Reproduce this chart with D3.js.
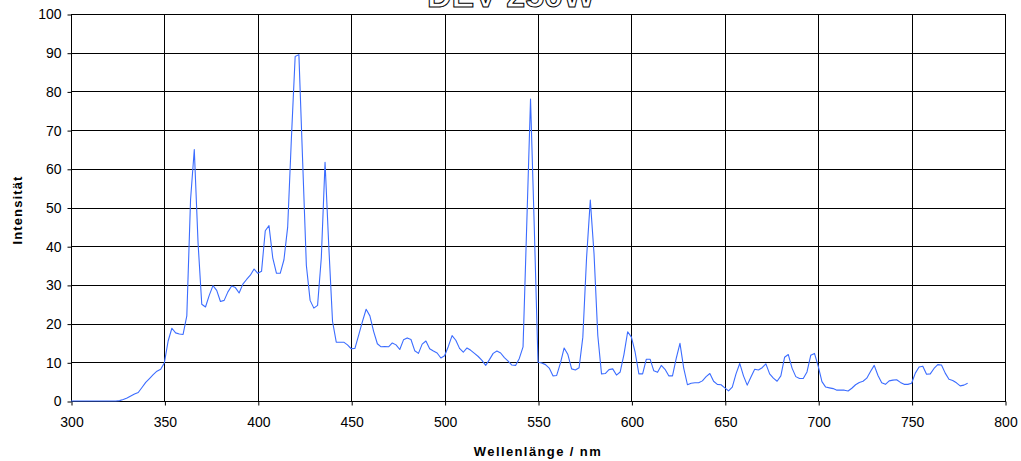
<!DOCTYPE html>
<html>
<head>
<meta charset="utf-8">
<script src="https://cdn.jsdelivr.net/npm/d3@7"></script>
<style>
  html, body { margin: 0; padding: 0; background: #fff; }
  svg { display: block; font-family: "Liberation Sans", Arial, sans-serif; }
</style>
</head>
<body>
<svg id="chart" width="1021" height="461"></svg>
<script>
const title = "DEV 250W";
const xLabel = "Wellenlänge / nm";
const yLabel = "Intensität";
const xTicks = [300, 350, 400, 450, 500, 550, 600, 650, 700, 750, 800];
const yTicks = [0, 10, 20, 30, 40, 50, 60, 70, 80, 90, 100];

const wavelengths = [
  300,302,304,306,308,310,312,314,316,318,320,322,324,326,328,330,332,334,336,338,340,342,344,346,348,
  350,352,354,356,358,360,362,364,366,368,370,372,374,376,378,380,382,384,386,388,390,392,394,396,398,
  400,402,404,406,408,410,412,414,416,418,420,422,424,426,428,430,432,434,436,438,440,442,444,446,448,
  450,452,454,456,458,460,462,464,466,468,470,472,474,476,478,480,482,484,486,488,490,492,494,496,498,
  500,502,504,506,508,510,512,514,516,518,520,522,524,526,528,530,532,534,536,538,540,542,544,546,548,
  550,552,554,556,558,560,562,564,566,568,570,572,574,576,578,580,582,584,586,588,590,592,594,596,598,
  600,602,604,606,608,610,612,614,616,618,620,622,624,626,628,630,632,634,636,638,640,642,644,646,648,
  650,652,654,656,658,660,662,664,666,668,670,672,674,676,678,680,682,684,686,688,690,692,694,696,698,
  700,702,704,706,708,710,712,714,716,718,720,722,724,726,728,730,732,734,736,738,740,742,744,746,748,
  750,752,754,756,758,760,762,764,766,768,770,772,774,776,778,780
];

const intensity = [
  0,0,0,0,0,0,0,0,0,0,0,0,0,0.1,0.4,0.8,1.3,1.8,2.2,3.5,4.8,5.8,6.8,7.7,8.2,
  9.9,15.5,18.8,17.6,17.3,17.2,22,52,65,41,25,24.3,27.3,29.8,28.6,25.7,26,28.2,29.7,29.3,27.9,30.2,31.4,32.5,34.1,
  33,33.5,44,45.3,37,33,33,36.5,45,68,89,89.5,62,35,26,24,24.7,37,61.7,40,20.6,15.2,15.2,15.2,14.5,
  13.5,13.6,17,20.5,23.7,22,18,14.8,14,14.1,14,15,14.5,13.3,15.8,16.3,15.9,13,12.3,14.7,15.5,13.5,12.9,12.4,11.1,
  11.7,14.1,16.9,15.7,13.6,12.6,13.7,13.1,12.3,11.5,10.5,9.2,10.7,12.3,12.9,12.4,11.2,10.3,9.3,9.2,11,14,46,78,45,
  10,9.8,9.4,8.5,6.5,6.6,9.8,13.7,12,8.3,8,8.6,16.5,37,51.9,38,17,7,7.1,8.1,8.3,6.7,7.5,12,17.9,
  16.5,12.6,7,7,10.8,10.8,7.8,7.4,9.2,8.2,6.5,6.5,11,14.9,8.5,4.2,4.6,4.7,4.7,5.2,6.3,7.1,5.1,4.3,4.2,
  3.4,2.6,3.6,7,9.7,6.5,4.1,6.2,8.2,8,8.6,9.6,7,5.9,5.1,6.5,11.3,12,8.5,6.3,5.8,5.8,7.5,11.8,12.3,
  9,5,3.6,3.4,3.2,2.8,2.8,2.8,2.6,3.3,4.2,4.8,5.1,5.9,7.6,9.2,6.6,4.7,4.3,5.2,5.4,5.5,4.8,4.3,4.3,
  4.6,7.2,8.8,9,6.9,7,8.4,9.4,9.3,7.2,5.6,5.3,4.7,3.9,4.1,4.6
];

const svg = d3.select("#chart");
const L = 71, R = 1005, T = 14, B = 401;
const x = d3.scaleLinear().domain([300, 800]).range([L, R]);
const y = d3.scaleLinear().domain([0, 100]).range([B, T]);

// grid
const g = svg.append("g");
g.selectAll("line.vg").data(xTicks).join("line")
  .attr("x1", d => Math.round(x(d)) + 0.5).attr("x2", d => Math.round(x(d)) + 0.5)
  .attr("y1", T).attr("y2", B)
  .attr("stroke", "#000").attr("stroke-width", 1);
g.selectAll("line.hg").data(yTicks).join("line")
  .attr("y1", d => Math.round(y(d)) + 0.5).attr("y2", d => Math.round(y(d)) + 0.5)
  .attr("x1", L).attr("x2", R + 1)
  .attr("stroke", "#000").attr("stroke-width", 1);

// axes
const xAxis = d3.axisBottom(x).tickValues(xTicks).tickSize(4).tickPadding(12).tickFormat(d3.format("d"));
const yAxis = d3.axisLeft(y).tickValues(yTicks).tickSize(4).tickPadding(6).tickFormat(d3.format("d"));
const gx = svg.append("g").attr("transform", `translate(0.5,${Math.round(B) + 0.5})`).call(xAxis);
const gy = svg.append("g").attr("transform", `translate(${L + 0.5},0.5)`).call(yAxis);
[gx, gy].forEach(a => {
  a.select(".domain").attr("stroke", "#000");
  a.selectAll(".tick line").attr("stroke", "#000");
  a.selectAll(".tick text").attr("fill", "#000")
    .style("font-family", '"Liberation Sans", Arial, sans-serif').style("font-size", "14px");
});
gx.select(".domain").remove();
gy.select(".domain").remove();

// line
const line = d3.line().x((d, i) => x(wavelengths[i])).y(d => y(d));
svg.append("path").datum(intensity)
  .attr("d", line).attr("fill", "none")
  .attr("stroke", "#3b6cff").attr("stroke-width", 1.1).attr("stroke-linejoin", "round");

// labels
svg.append("text").attr("x", 538).attr("y", 456).attr("text-anchor", "middle")
  .style("font-size", "13px").style("font-weight", "bold").style("letter-spacing", "1.4px")
  .text(xLabel);
svg.append("text").attr("transform", "translate(22,210) rotate(-90)").attr("text-anchor", "middle")
  .style("font-size", "13px").style("font-weight", "bold").style("letter-spacing", "1.1px")
  .text(yLabel);

// title (cut off at top, as in the reference)
svg.append("text").attr("x", 511).attr("y", 7).attr("text-anchor", "middle")
  .style("font-size", "34px").style("font-weight", "bold")
  .attr("fill", "#fff").attr("stroke", "#000").attr("stroke-width", 1)
  .text(title);
</script>
</body>
</html>
